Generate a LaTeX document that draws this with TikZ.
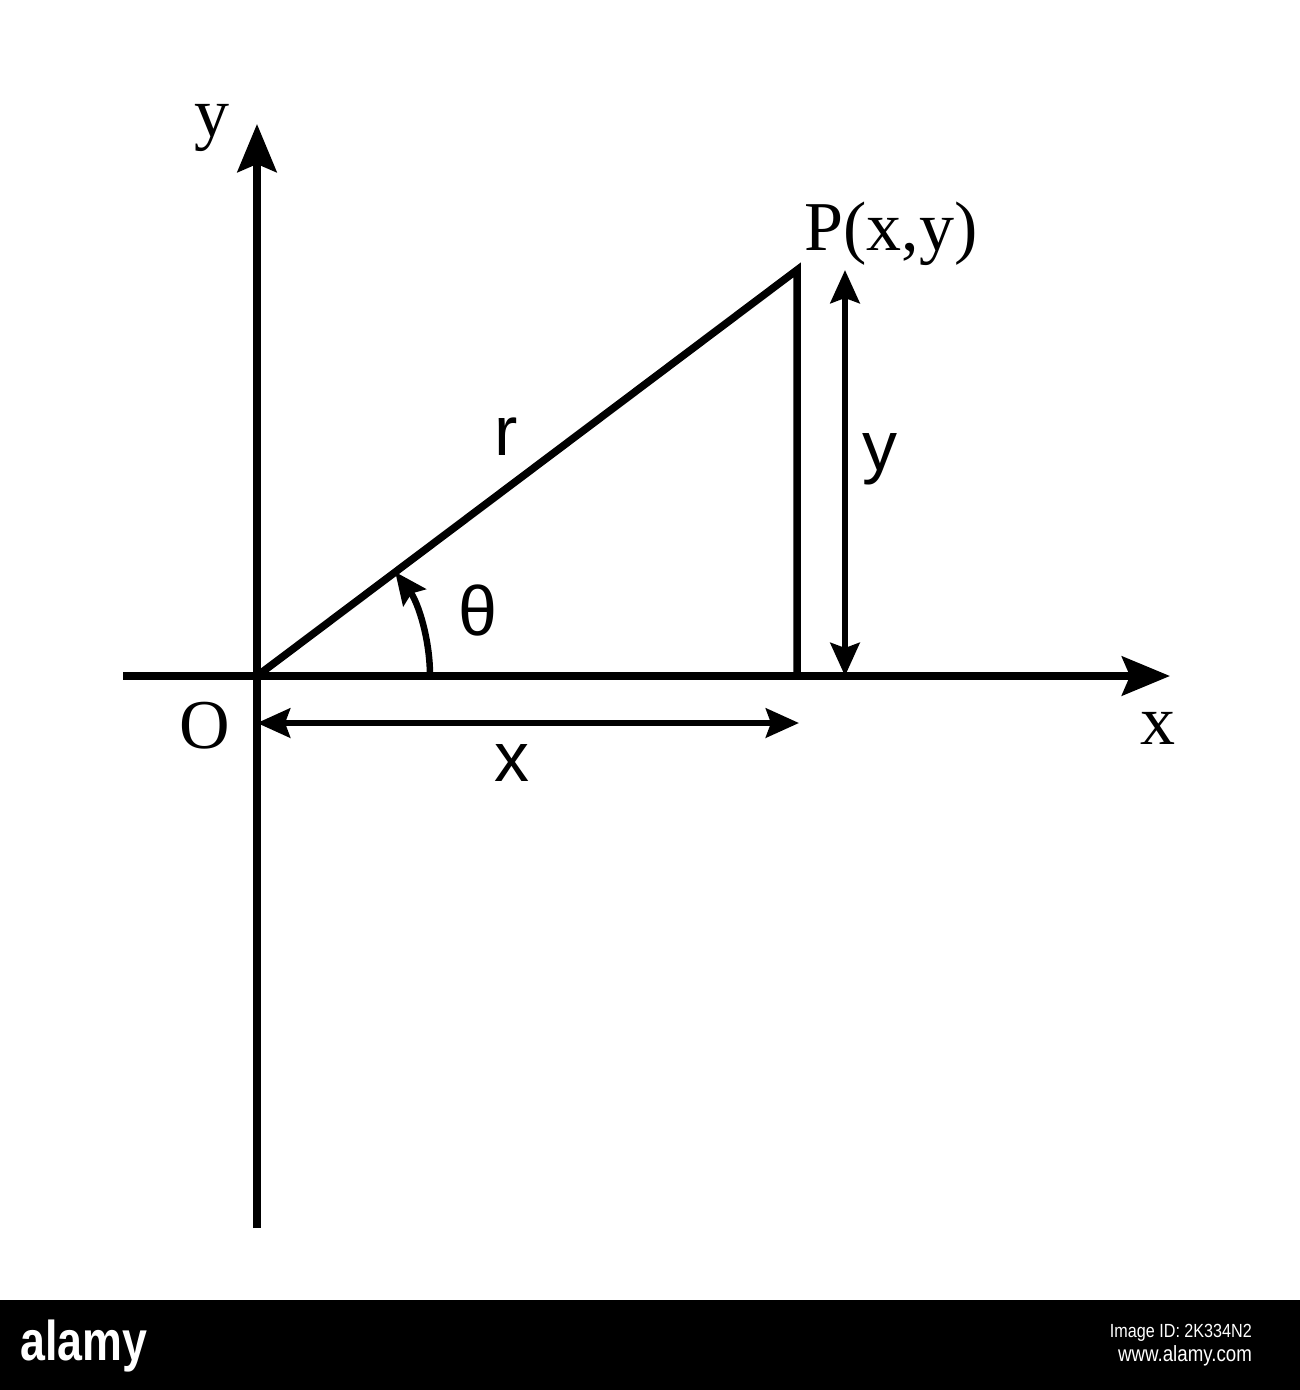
\documentclass[tikz,border=0pt]{standalone}
\usepackage{fontspec}
\setmainfont{Liberation Serif}
\setsansfont{Liberation Sans}
\usetikzlibrary{arrows.meta}

\begin{document}
\begin{tikzpicture}[x=1pt,y=-1pt,
	axis/.style={line width=7.5pt,-{Stealth[length=48pt,width=39pt,inset=8pt]}},
	side/.style={line width=7.5pt},
	dimline/.style={line width=6.5pt,{Stealth[length=33pt,width=29pt,inset=5pt]}-{Stealth[length=33pt,width=29pt,inset=5pt]}},
	anglearrow/.style={line width=6.5pt,-{Stealth[length=32pt,width=28pt,inset=5pt]}},
	serif/.style={font=\fontsize{70}{80}\selectfont,anchor=base,inner sep=0pt},
	sans/.style={font=\sffamily\fontsize{70}{80}\selectfont,anchor=base,inner sep=0pt},
]
	\useasboundingbox (0,0) rectangle (1300,1390);
	\fill[white] (0,0) rectangle (1300,1300);

	% axes
	\coordinate (O) at (257,676);
	\coordinate (xs) at (123,676);
	\coordinate (xe) at (1170,676);
	\coordinate (ys) at (257,1228);
	\coordinate (ye) at (257,124);
	\draw[axis] (xs) -- (xe);
	\draw[axis] (ys) -- (ye);

	% triangle
	\coordinate (P) at (797,270);
	\coordinate (Q) at (797,676);
	\draw[side] (O) -- (P) -- (Q);

	% dimensions
	\coordinate (ytop) at (845,270);
	\coordinate (ybot) at (845,676);
	\coordinate (xleft) at (257,723);
	\coordinate (xright) at (799,723);
	\draw[dimline] (ytop) -- (ybot);
	\draw[dimline] (xleft) -- (xright);

	% angle
	\coordinate (A) at (430,676);
	\draw[anglearrow] (A) arc[start angle=0,end angle=37,radius=173pt];

	% labels
	\node[serif] (ylab) at (212,136) {y};
	\node[serif] (xlab) at (1158,744) {x};
	\node[serif] (olab) at (205,748) {O};
	\node[serif] (plab) at (891,250) {P(x,y)};
	\node[sans] (rlab) at (506,455) {r};
	\node[sans] (thlab) at (478,635) {θ};
	\node[sans] (ydim) at (880,470) {y};
	\node[sans] (xdim) at (512,781) {x};

	% footer
	\fill[black] (0,1300) rectangle (1300,1390);
	\node[font=\sffamily\bfseries\fontsize{56}{56}\selectfont,text=white,anchor=base west,inner sep=0pt,xscale=0.8] (logo) at (20,1360) {alamy};
	\node[font=\sffamily\fontsize{19}{20}\selectfont,text=white,anchor=base east,inner sep=0pt,xscale=0.85] (imgid) at (1252,1337) {Image ID: 2K334N2};
	\node[font=\sffamily\fontsize{22}{24}\selectfont,text=white,anchor=base east,inner sep=0pt,xscale=0.85] (site) at (1252,1361) {www.alamy.com};
\end{tikzpicture}
\end{document}
